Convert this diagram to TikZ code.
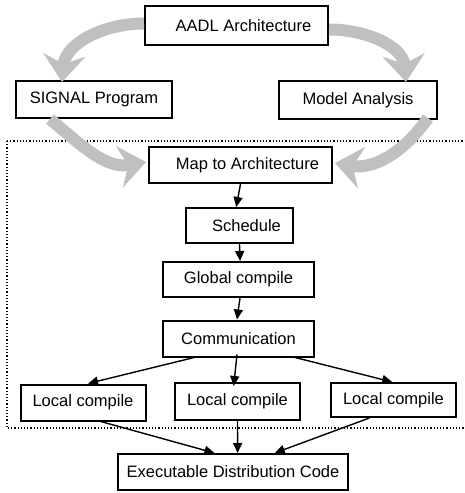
\documentclass[tikz,border=0pt]{standalone}
\usepackage{fontspec}
\setmainfont{Liberation Sans}
\usetikzlibrary{arrows.meta,calc}
\definecolor{arrgray}{RGB}{192,192,192}
\begin{document}
\begin{tikzpicture}[x=1pt,y=-1pt,
  box/.style={draw=black,line width=2pt,rectangle,inner sep=0pt,font=\fontsize{16.5}{19}\selectfont},
  bigarrow/.style={draw=arrgray,line width=12pt,-{Stealth[length=27pt,width=42pt,inset=9pt]}},
  flow/.style={draw=black,line width=1.4pt,-{Triangle[length=10pt,width=9pt]}}]
\useasboundingbox (0,0) rectangle (464,493);
\fill[white] (0,0) rectangle (464,493);
% dotted frame
\draw[dotted,line width=1.2pt] (7,141) -- (470,141);
\draw[dotted,line width=1.2pt] (7,141) -- (7,428) -- (470,428);
% nodes
\node[box,minimum width=183pt,minimum height=39pt] (aadl) at (236.5,25.5) {\hspace{14pt}AADL Architecture};
\node[box,minimum width=156pt,minimum height=37pt] (sig) at (94,99.5) {SIGNAL Program};
\node[box,minimum width=158pt,minimum height=38pt] (ma) at (358,100) {Model Analysis};
\node[box,minimum width=183pt,minimum height=36pt] (map) at (240.5,165) {\hspace{14pt}Map to Architecture};
\node[box,minimum width=107pt,minimum height=35pt] (sch) at (239.5,225.5) {\hspace{14pt}Schedule};
\node[box,minimum width=151pt,minimum height=35pt] (glob) at (238.5,279.5) {Global compile};
\node[box,minimum width=151pt,minimum height=36pt] (comm) at (238.5,338.5) {Communication};
\node[box,minimum width=125pt,minimum height=36pt] (l1) at (83,402.5) {Local compile};
\node[box,minimum width=125pt,minimum height=37pt] (l2) at (237.5,401.5) {Local compile};
\node[box,minimum width=125pt,minimum height=34pt] (l3) at (393.5,400) {Local compile};
\node[box,minimum width=230pt,minimum height=36pt] (exe) at (233,472) {Executable Distribution Code};
% gray curved arrows
\draw[bigarrow] ([yshift=2pt]aadl.west) to[out=180,in=85] ([xshift=-32pt,yshift=-2pt]sig.north);
\draw[bigarrow] ([yshift=-4pt]aadl.east) to[out=0,in=95] ([xshift=48pt,yshift=-2pt]ma.north);
\draw[bigarrow] ([xshift=-44pt]sig.south) to[out=-40,in=190] ([xshift=-2pt,yshift=3pt]map.west);
\draw[bigarrow] ([xshift=70pt,yshift=2pt]ma.south) to[out=-125,in=-10] ([xshift=2pt,yshift=2pt]map.east);
% black flow arrows
\draw[flow] ($(map.south west)!0.50!(map.south east)$) -- ($(sch.north west)!0.47!(sch.north east)$);
\draw[flow] ($(sch.south west)!0.5!(sch.south east)$) -- ($(glob.north west)!0.51!(glob.north east)$);
\draw[flow] ($(glob.south west)!0.51!(glob.south east)$) -- ($(comm.north west)!0.49!(comm.north east)$);
\draw[flow] ($(comm.south west)!0.21!(comm.south east)$) -- ($(l1.north west)!0.54!(l1.north east)$);
\draw[flow] ([yshift=3pt]$(comm.south west)!0.49!(comm.south east)$) -- ([yshift=-4pt]$(l2.north west)!0.47!(l2.north east)$);
\draw[flow] ($(comm.south west)!0.87!(comm.south east)$) -- ($(l3.north west)!0.49!(l3.north east)$);
\draw[flow] ($(l1.south west)!0.64!(l1.south east)$) -- ($(exe.north west)!0.42!(exe.north east)$);
\draw[flow] ($(l2.south west)!0.5!(l2.south east)$) -- ($(exe.north west)!0.52!(exe.north east)$);
\draw[flow] ($(l3.south west)!0.31!(l3.south east)$) -- ($(exe.north west)!0.68!(exe.north east)$);
\end{tikzpicture}
\end{document}
